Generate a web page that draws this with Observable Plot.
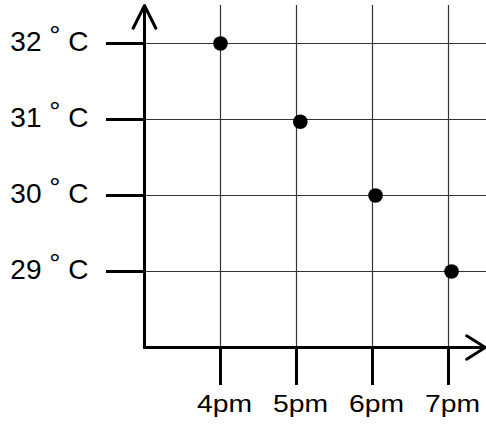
<!DOCTYPE html>
<html><head><meta charset="utf-8">
<script src="https://cdn.jsdelivr.net/npm/d3@7"></script>
<script src="https://cdn.jsdelivr.net/npm/@observablehq/plot@0.6"></script>
<style>body{margin:0;background:#fff}</style>
</head><body><div id="chart"></div>
<script>
const timeLabels = ["4pm", "5pm", "6pm", "7pm"];
const timeTicks = [4, 5, 6, 7];
const tempTicks = [29, 30, 31, 32];
const tempLabels = ["29 ° C", "30 ° C", "31 ° C", "32 ° C"];
const pointTimes = [4.0, 5.05, 6.04, 7.04];
const pointTemps = [32.0, 30.97, 30.0, 29.0];
const xDomain = [3, 7.5];
const yDomain = [28, 32.5];

const points = pointTimes.map((t, i) => ({t, temp: pointTemps[i]}));
const xTickData = timeTicks.map((t, i) => ({t, label: timeLabels[i]}));
const yTickData = tempTicks.map((v, i) => ({v, label: tempLabels[i]}));
const x0 = xDomain[0], y0 = yDomain[0];
const tickLen = 0.5;

const chart = Plot.plot({
  width: 486, height: 425,
  marginLeft: 144, marginRight: 0, marginTop: 5, marginBottom: 78,
  x: {domain: xDomain, axis: null},
  y: {domain: yDomain, axis: null},
  style: {fontFamily: "'Liberation Sans', Arial, sans-serif", background: "#fff", overflow: "visible"},
  marks: [
    Plot.ruleX(timeTicks, {x: d => d, y1: y0, y2: yDomain[1], stroke: "#333", strokeWidth: 1.2}),
    Plot.ruleY(tempTicks, {y: d => d, x1: x0, x2: xDomain[1], stroke: "#333", strokeWidth: 1.2}),
    Plot.ruleX(timeTicks, {x: d => d, y1: y0 - tickLen, y2: y0, stroke: "#000", strokeWidth: 3}),
    Plot.ruleY(tempTicks, {y: d => d, x1: x0 - tickLen, x2: x0, stroke: "#000", strokeWidth: 3}),
    Plot.arrow([0], {x1: x0, y1: y0, x2: x0, y2: yDomain[1], stroke: "#000", strokeWidth: 3, headLength: 12.7, headAngle: 53}),
    Plot.arrow([0], {x1: x0, y1: y0, x2: xDomain[1] - 0.015, y2: y0, stroke: "#000", strokeWidth: 3, headLength: 11, headAngle: 64}),
    Plot.dot(points, {x: "t", y: "temp", r: 7.3, fill: "#000"}),
    Plot.text(yTickData, {x: () => x0, y: "v", text: "label", textAnchor: "end", dx: -56, dy: -1, fontSize: 28, fill: "#000"}),
    Plot.text(xTickData, {x: "t", y: () => y0, text: "label", lineAnchor: "top", dy: 47, dx: 4, fontSize: 24, fill: "#000"})
  ]
});
document.getElementById("chart").appendChild(chart);

const textGroups = chart.querySelectorAll('g[aria-label="text"]');
// y labels: raise the degree sign
d3.select(textGroups[0]).selectAll("text").each(function () {
  const parts = this.textContent.split("°");
  if (parts.length === 2) {
    const el = d3.select(this);
    el.text(null);
    el.append("tspan").text(parts[0]);
    el.append("tspan").attr("dy", -6).text("°");
    el.append("tspan").attr("dy", 6).text(parts[1]);
  }
});
// x labels: horizontally stretched like the reference
d3.select(textGroups[1]).selectAll("text").each(function () {
  const t = this.getAttribute("transform");
  if (t) this.setAttribute("transform", t + " scale(1.18,1)");
});
</script>
</body></html>
